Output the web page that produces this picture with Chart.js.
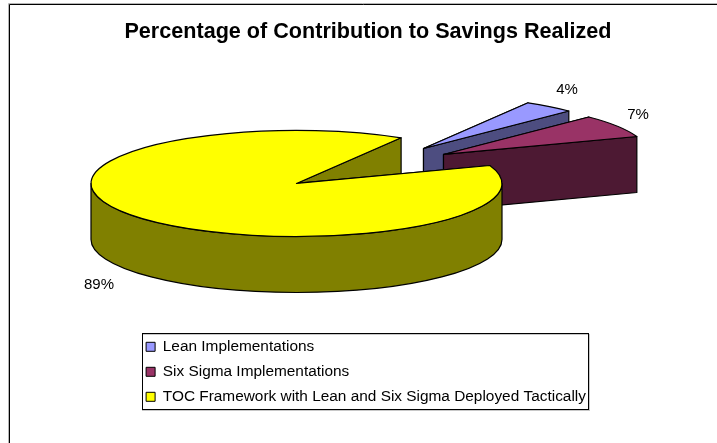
<!DOCTYPE html>
<html lang="en">
<head>
    <meta charset="UTF-8">
    <title>Percentage of Contribution to Savings Realized</title>
    <script src="https://cdn.jsdelivr.net/npm/chart.js"></script>
    <style>
        html, body { margin: 0; padding: 0; background: #fff; }
        #wrap { width: 717px; height: 443px; }
    </style>
</head>
<body>
    <div id="wrap"><canvas id="savingsChart" width="717" height="443"></canvas></div>

    <script>
        const categories = ['Lean Implementations', 'Six Sigma Implementations', 'TOC Framework with Lean and Six Sigma Deployed Tactically'];
        const shares = [4, 7, 89];
        const topColors = ['#9999FF', '#993366', '#FFFF00'];
        const sideColors = ['#4D4D80', '#4D1933', '#808000'];

        // how far each slice is pulled out of the pie, in pixels
        const explodeX = [127, 147, 0];
        const explodeY = [-35, -29, 0];
        const labelX = [567, 638, 99];
        const labelY = [90, 115, 285];

        const SQUASH = 0.258;
        const DEPTH = 56;
        const FONT = 'Liberation Sans, Arial, sans-serif';

        // draws the pie as tilted slices, using the angles the arc elements got from the controller
        const tiltedPie = {
            id: 'tiltedPie',
            afterLayout(chart) {
                const title = chart.titleBlock;
                title.left = 124;
                title.right = 612;
                const legend = chart.legend;
                legend.left = 136.5;
                legend.right = 589;
                legend.top = 329.5;
                legend.bottom = 470;
            },
            beforeDraw(chart) {
                const ctx = chart.ctx;
                ctx.save();
                ctx.fillStyle = '#fff';
                ctx.fillRect(0, 0, chart.width, chart.height);
                // chart frame, only top and left edges fall inside the page
                ctx.lineWidth = 1;
                ctx.strokeStyle = '#b5b5b5';
                ctx.beginPath();
                ctx.moveTo(8.5, 443); ctx.lineTo(8.5, 3.5); ctx.lineTo(717, 3.5);
                ctx.stroke();
                ctx.strokeStyle = '#000';
                ctx.beginPath();
                ctx.moveTo(9.5, 443); ctx.lineTo(9.5, 4.5); ctx.lineTo(717, 4.5);
                ctx.stroke();
                ctx.restore();
            },
            beforeDatasetDraw(chart, args) {
                const ctx = chart.ctx;
                const arcs = chart.getDatasetMeta(args.index).data;
                ctx.save();
                ctx.lineWidth = 1.2;
                ctx.lineJoin = 'round';
                ctx.strokeStyle = '#000';
                arcs.forEach((arc, i) => drawSlice(ctx, arc, i));
                ctx.restore();
                return false;
            },
            afterDatasetsDraw(chart) {
                const ctx = chart.ctx;
                ctx.save();
                ctx.fillStyle = '#000';
                ctx.font = '15px ' + FONT;
                ctx.textAlign = 'center';
                ctx.textBaseline = 'middle';
                shares.forEach((v, i) => ctx.fillText(v + '%', labelX[i], labelY[i]));
                ctx.restore();
            },
            afterDraw(chart) {
                // box around the legend
                const ctx = chart.ctx;
                ctx.save();
                ctx.strokeStyle = '#c8c8c8';
                ctx.strokeRect(142.5, 334.5, 447, 76);
                ctx.strokeStyle = '#000';
                ctx.strokeRect(142.5, 333.5, 446, 76);
                ctx.restore();
            }
        };

        function drawSlice(ctx, arc, i) {
            const { x, y, startAngle, endAngle, outerRadius } = arc.getProps(['x', 'y', 'startAngle', 'endAngle', 'outerRadius'], true);
            const cx = x + explodeX[i];
            const cy = y + explodeY[i];
            const rx = outerRadius;
            const ry = outerRadius * SQUASH;
            const rim = a => [cx + rx * Math.cos(a), cy + ry * Math.sin(a)];

            // radial walls, the one further back first
            const walls = [startAngle, endAngle].sort((a, b) => rim(a)[1] - rim(b)[1]);
            ctx.fillStyle = sideColors[i];
            walls.forEach(a => {
                const p = rim(a);
                ctx.beginPath();
                ctx.moveTo(cx, cy);
                ctx.lineTo(p[0], p[1]);
                ctx.lineTo(p[0], p[1] + DEPTH);
                ctx.lineTo(cx, cy + DEPTH);
                ctx.closePath();
                ctx.fill();
                ctx.stroke();
            });

            // curved wall, only the front half of the rim can be seen
            const from = Math.max(startAngle, 0);
            const to = Math.min(endAngle, Math.PI);
            if (to > from) {
                ctx.beginPath();
                ctx.ellipse(cx, cy, rx, ry, 0, from, to);
                ctx.ellipse(cx, cy + DEPTH, rx, ry, 0, to, from, true);
                ctx.closePath();
                ctx.fill();
                ctx.stroke();
            }

            ctx.fillStyle = topColors[i];
            ctx.beginPath();
            ctx.moveTo(cx, cy);
            ctx.ellipse(cx, cy, rx, ry, 0, startAngle, endAngle);
            ctx.closePath();
            ctx.fill();
            ctx.stroke();
        }

        new Chart(document.getElementById('savingsChart'), {
            type: 'pie',
            data: {
                labels: categories,
                datasets: [{
                    data: shares,
                    backgroundColor: topColors,
                    borderColor: '#000',
                    borderWidth: 1,
                    radius: 205.5
                }]
            },
            options: {
                responsive: false,
                animation: false,
                rotation: 30.6,
                layout: { padding: { left: 0, right: 124, top: 0, bottom: 134 } },
                plugins: {
                    tooltip: { enabled: false },
                    title: {
                        display: true,
                        text: 'Percentage of Contribution to Savings Realized',
                        color: '#000',
                        font: { family: FONT, size: 21.6, weight: 'bold' },
                        padding: { top: 19, bottom: 13 }
                    },
                    legend: {
                        position: 'chartArea',
                        align: 'start',
                        onClick: null,
                        labels: {
                            color: '#000',
                            font: { family: FONT, size: 15.4 },
                            boxWidth: 9,
                            boxHeight: 9,
                            padding: 9.6
                        }
                    }
                }
            },
            plugins: [tiltedPie]
        });
    </script>
</body>
</html>
